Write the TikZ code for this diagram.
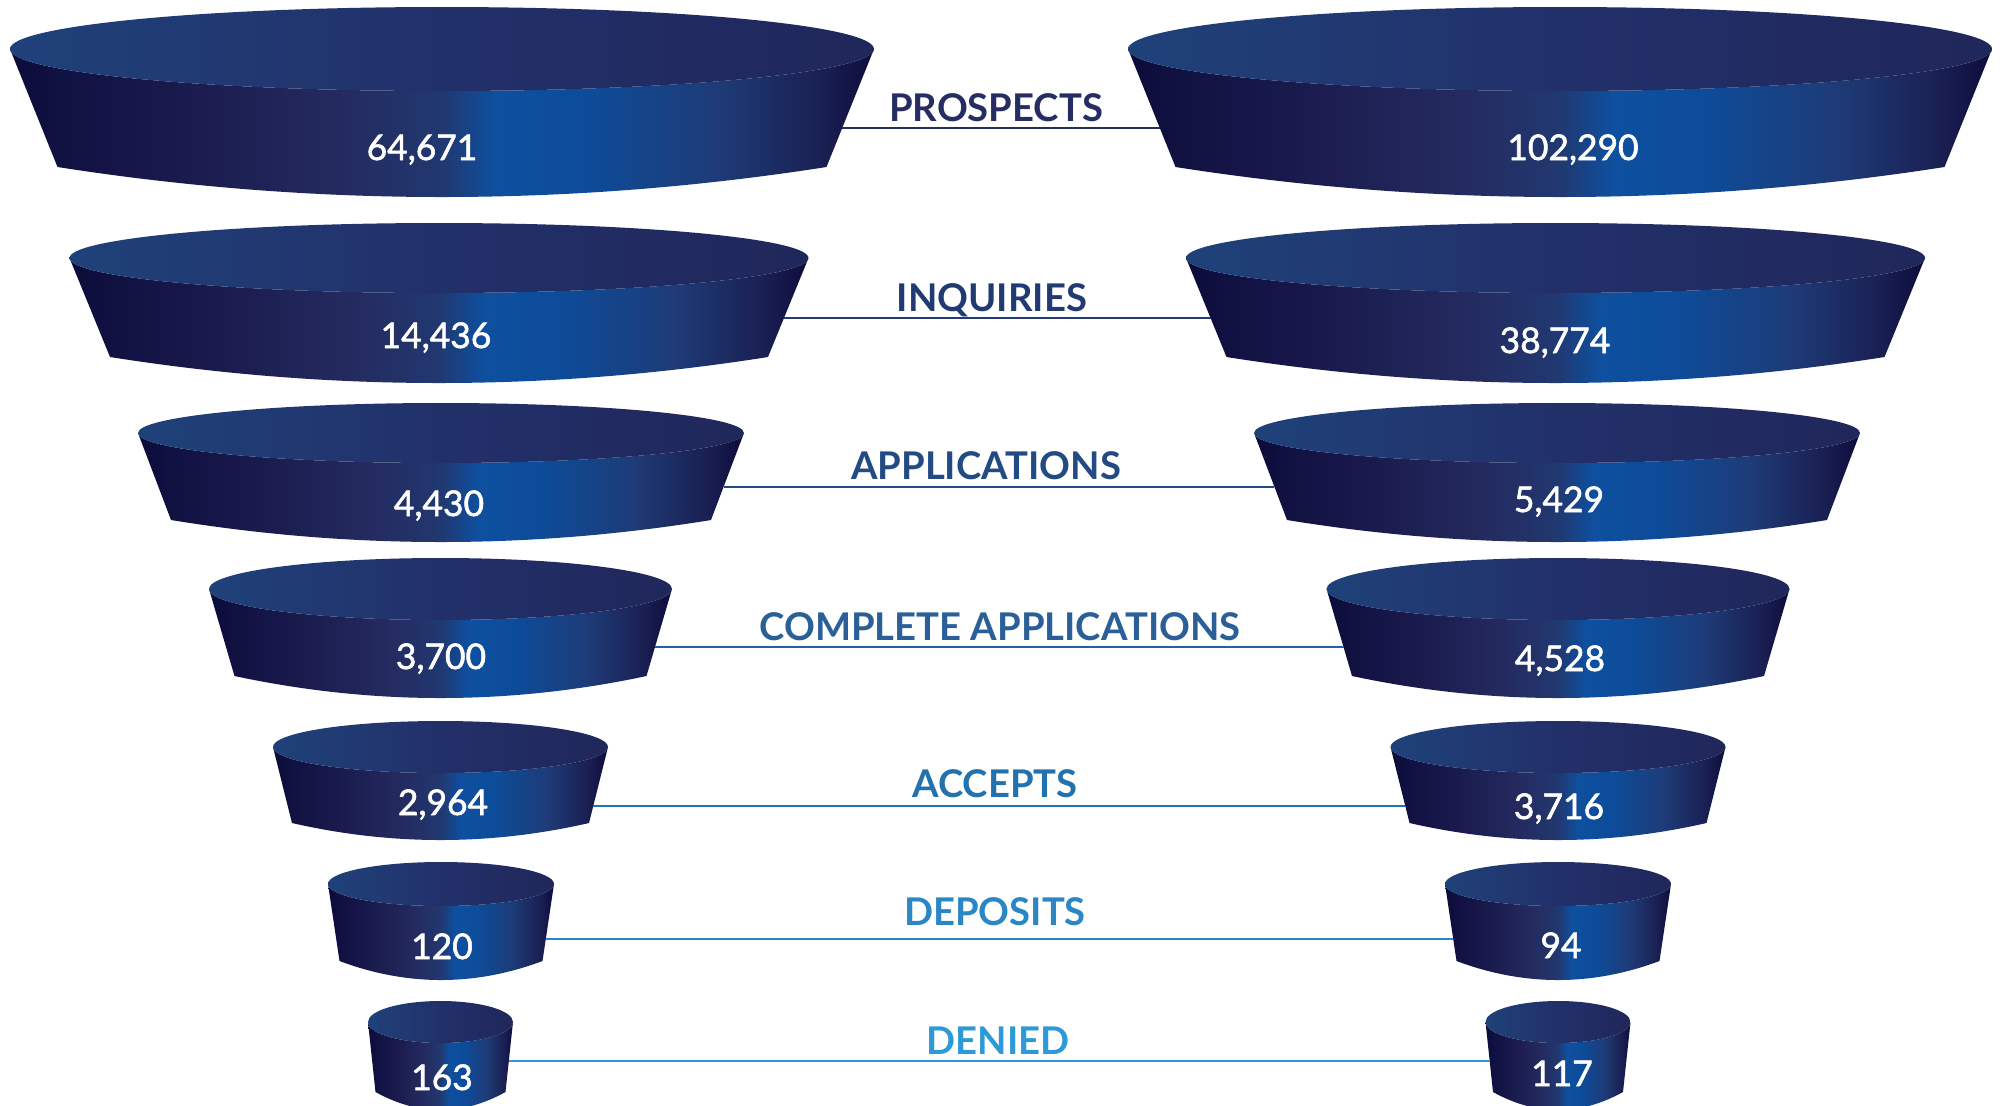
\documentclass[tikz,border=0pt]{standalone}
\usepackage{fontspec}
\setmainfont{Lato}
\newfontfamily\numfont{Lato}[FakeBold=1.6]
\definecolor{fs0}{HTML}{0C0C3A}
\definecolor{fs1}{HTML}{101041}
\definecolor{fs2}{HTML}{1A1B4D}
\definecolor{fs3}{HTML}{242A5F}
\definecolor{fs4}{HTML}{213870}
\definecolor{fs5}{HTML}{0E4F9F}
\definecolor{fs6}{HTML}{0C4C9A}
\definecolor{fs7}{HTML}{1E3B77}
\definecolor{fs8}{HTML}{1A1F52}
\definecolor{ft0}{HTML}{1F4179}
\definecolor{ft1}{HTML}{22306A}
\definecolor{ft2}{HTML}{20275A}
\definecolor{c1}{HTML}{252D63}
\definecolor{c2}{HTML}{213B72}
\definecolor{c3}{HTML}{224A83}
\definecolor{c4}{HTML}{2A5F98}
\definecolor{c5}{HTML}{2472AD}
\definecolor{c6}{HTML}{2A86C4}
\definecolor{c7}{HTML}{2D9AD7}
\pgfdeclarehorizontalshading{funnelside}{100bp}{color(0bp)=(fs0); color(25bp)=(fs0); color(27.5bp)=(fs1); color(35bp)=(fs2); color(44bp)=(fs3); color(50bp)=(fs4); color(53bp)=(fs5); color(58bp)=(fs6); color(66bp)=(fs7); color(72bp)=(fs8); color(75bp)=(fs0); color(100bp)=(fs0)}
\pgfdeclarehorizontalshading{funneltop}{100bp}{color(0bp)=(ft0); color(25bp)=(ft0); color(50bp)=(ft1); color(75bp)=(ft2); color(100bp)=(ft2)}
% #1 cx, #2 cy, #3 rx, #4 ry, #5 bottom half width, #6 corner y, #7 lowest y
\newcommand\drawfunnel[7]{%
  \pgfmathsetmacro\fL{#1-#3}\pgfmathsetmacro\fR{#1+#3}%
  \pgfmathsetmacro\bL{#1-#5}\pgfmathsetmacro\bR{#1+#5}%
  \pgfmathsetmacro\cyA{-(#6+4/3*(#7-#6))}%
  \pgfmathsetmacro\cxA{\bL+2/3*#5}\pgfmathsetmacro\cxB{\bR-2/3*#5}%
  \shade[shading=funnelside] (\fL,-#2) -- (\bL,-#6) .. controls (\cxA,\cyA) and (\cxB,\cyA) .. (\bR,-#6) -- (\fR,-#2) arc[start angle=0,end angle=-180,x radius=#3,y radius=#4] -- cycle;
  \shade[shading=funneltop] (#1,-#2) ellipse[x radius=#3,y radius=#4];
}
% #1 name, #2 cx, #3 cy, #4 rx, #5 bw, #6 corner y, #7 line y, #8 dir
\newcommand\sidept[8]{%
  \pgfmathsetmacro\spx{#2+#8*(#4+(#5-#4)*(#7-#3)/(#6-#3))}%
  \coordinate (#1) at (\spx,-#7);}
\begin{document}
\begin{tikzpicture}[x=0.5pt,y=0.5pt,
  num/.style={anchor=base,text=white,font=\numfont\fontsize{17.7}{18}\selectfont,inner sep=0pt},
  lab/.style={anchor=base,font=\bfseries\fontsize{19.1}{19}\selectfont,inner sep=0pt},
  conn/.style={line width=0.75pt}]
\useasboundingbox (0,0) rectangle (2003,-1105);
\fill[white] (0,0) rectangle (2003,-1105);
% funnels left
\drawfunnel{442}{49}{432}{42}{384.5}{167}{197}
\drawfunnel{439}{258}{369.5}{35}{329}{357}{383}
\drawfunnel{441}{433}{303}{30}{270}{520}{542}
\drawfunnel{440.5}{589}{231.5}{31}{206}{676}{698}
\drawfunnel{440.5}{747}{167.5}{26}{148.5}{823}{840}
\drawfunnel{441}{884}{113}{22}{101.5}{961}{980}
\drawfunnel{440.5}{1022}{72.5}{21}{65}{1092}{1110}
% funnels right
\drawfunnel{1560}{49}{432}{42}{384.5}{167}{197}
\drawfunnel{1555.5}{258}{369.5}{35}{329}{357}{383}
\drawfunnel{1557}{433}{303}{30}{270}{520}{542}
\drawfunnel{1558}{589}{231.5}{31}{206}{676}{698}
\drawfunnel{1558}{747}{167.5}{26}{148.5}{823}{840}
\drawfunnel{1558}{884}{113}{22}{101.5}{961}{980}
\drawfunnel{1558}{1022}{72.5}{21}{65}{1092}{1110}
% connector end points
\sidept{L1e}{442}{49}{432}{384.5}{167}{128}{1}
\sidept{R1e}{1560}{49}{432}{384.5}{167}{128}{-1}
\sidept{L2e}{439}{258}{369.5}{329}{357}{318}{1}
\sidept{R2e}{1555.5}{258}{369.5}{329}{357}{318}{-1}
\sidept{L3e}{441}{433}{303}{270}{520}{487}{1}
\sidept{R3e}{1557}{433}{303}{270}{520}{487}{-1}
\sidept{L4e}{440.5}{589}{231.5}{206}{676}{647}{1}
\sidept{R4e}{1558}{589}{231.5}{206}{676}{647}{-1}
\sidept{L5e}{440.5}{747}{167.5}{148.5}{823}{806}{1}
\sidept{R5e}{1558}{747}{167.5}{148.5}{823}{806}{-1}
\sidept{L6e}{441}{884}{113}{101.5}{961}{939}{1}
\sidept{R6e}{1558}{884}{113}{101.5}{961}{939}{-1}
\sidept{L7e}{440.5}{1022}{72.5}{65}{1092}{1061}{1}
\sidept{R7e}{1558}{1022}{72.5}{65}{1092}{1061}{-1}
\draw[conn,c1] (L1e) -- (R1e);
\draw[conn,c2] (L2e) -- (R2e);
\draw[conn,c3] (L3e) -- (R3e);
\draw[conn,c4] (L4e) -- (R4e);
\draw[conn,c5] (L5e) -- (R5e);
\draw[conn,c6] (L6e) -- (R6e);
\draw[conn,c7] (L7e) -- (R7e);
% numbers
\node[num] (n1l) at (422,-160) {64,671};
\node[num] (n2l) at (436,-348) {14,436};
\node[num] (n3l) at (439,-516) {4,430};
\node[num] (n4l) at (441,-669) {3,700};
\node[num] (n5l) at (443,-815) {2,964};
\node[num] (n6l) at (442,-959) {120};
\node[num] (n7l) at (442,-1090) {163};
\node[num] (n1r) at (1573,-160) {102,290};
\node[num] (n2r) at (1555,-353) {38,774};
\node[num] (n3r) at (1559,-512) {5,429};
\node[num] (n4r) at (1560,-671) {4,528};
\node[num] (n5r) at (1559,-819) {3,716};
\node[num] (n6r) at (1561,-958) {94};
\node[num] (n7r) at (1562,-1086) {117};
% labels
\node[lab,text=c1] (t1) at (996,-121.5) {PROSPECTS};
\node[lab,text=c2] (t2) at (992,-311.5) {INQUIRIES};
\node[lab,text=c3] (t3) at (986,-479.5) {APPLICATIONS};
\node[lab,text=c4] (t4) at (1000,-640.5) {COMPLETE APPLICATIONS};
\node[lab,text=c5] (t5) at (995,-797.5) {ACCEPTS};
\node[lab,text=c6] (t6) at (995,-925.5) {DEPOSITS};
\node[lab,text=c7] (t7) at (998,-1054.5) {DENIED};
\end{tikzpicture}
\end{document}
